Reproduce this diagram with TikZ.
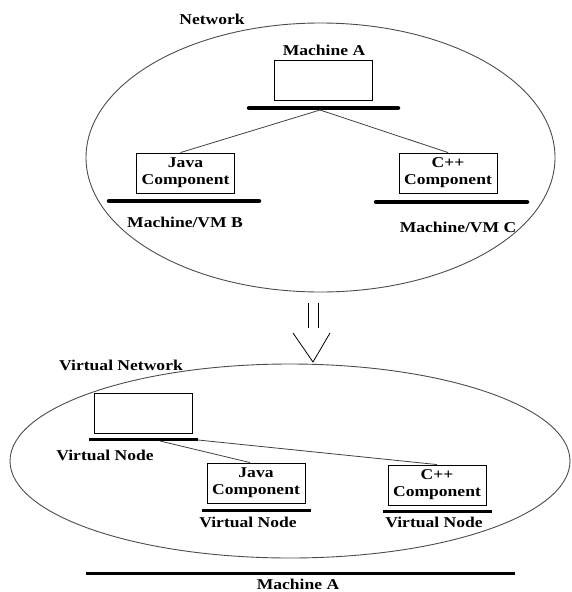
\documentclass[tikz,border=0pt]{standalone}
\usepackage{fontspec}
\newfontfamily\labelfont[FakeStretch=1.17]{Liberation Serif}
\begin{document}
\begin{tikzpicture}[x=1pt,y=-1pt,
  lbl/.style={font=\labelfont\bfseries\fontsize{15}{17}\selectfont, inner sep=0pt, align=center},
  compbox/.style={draw=black, line width=0.9pt, minimum width=98pt, minimum height=40pt,
    inner sep=0pt, align=center, font=\labelfont\bfseries\fontsize{15}{17}\selectfont},
  thickbar/.style={line width=4.5pt, line cap=round},
  thinbar/.style={line width=3pt},
  link/.style={draw=black!75, line width=0.8pt},
  outline/.style={draw=black!70, line width=0.9pt}
]
\useasboundingbox (0,0) rectangle (571,592);

% ---------- physical network ----------
\draw[outline] (320.5,157.5) ellipse [x radius=234.5, y radius=134.5];
\node[lbl] (net) at (212,19) {Network};

\node[lbl] (malbl) at (324,50) {Machine A};
\node[compbox] (mabox) at (323,80) {};
\coordinate (maL) at (249,108);
\coordinate (maR) at (398,108);
\coordinate (maHub) at (320,110);
\draw[thickbar] (maL) -- (maR);

\node[compbox] (jbox) at (185.5,173) {Java\\Component};
\coordinate (jL) at (109,201);
\coordinate (jR) at (259,201);
\draw[thickbar] (jL) -- (jR);
\node[lbl] (jlbl) at (185,222) {Machine/VM B};

\node[compbox] (cbox) at (448,173) {C++\\Component};
\coordinate (cL) at (376,202);
\coordinate (cR) at (527,202);
\draw[thickbar] (cL) -- (cR);
\node[lbl] (clbl) at (458,227) {Machine/VM C};

\draw[link] (maHub) -- ([xshift=-5pt]jbox.north);
\draw[link] (maHub) -- (cbox.north);

% ---------- transformation arrow ----------
\coordinate (arL1) at (308,303);
\coordinate (arL2) at (308,328);
\coordinate (arR1) at (318,303);
\coordinate (arR2) at (318,328);
\coordinate (headL) at (293,333);
\coordinate (tip) at (313,362);
\coordinate (headR) at (330,333);
\draw[line width=1pt] (arL1) -- (arL2);
\draw[line width=1pt] (arR1) -- (arR2);
\draw[line width=0.8pt] (headL) -- (tip) -- (headR);

% ---------- virtual network ----------
\draw[outline] (290,461) ellipse [x radius=280, y radius=97];
\node[lbl] (vnet) at (121,365) {Virtual Network};

\node[compbox] (vbox) at (143,413) {};
\coordinate (vL) at (89,439);
\coordinate (vR) at (198,439);
\coordinate (vHub) at (160,441);
\coordinate (vEnd) at (198,440);
\draw[thinbar] (vL) -- (vR);
\node[lbl] (vlbl) at (105,455) {Virtual Node};

\node[compbox] (vjbox) at (256,483) {Java\\Component};
\coordinate (vjL) at (202,510);
\coordinate (vjR) at (311,510);
\draw[thinbar] (vjL) -- (vjR);
\node[lbl] (vjlbl) at (248,522) {Virtual Node};

\node[compbox] (vcbox) at (437,485) {C++\\Component};
\coordinate (vcL) at (383,511);
\coordinate (vcR) at (492,511);
\draw[thinbar] (vcL) -- (vcR);
\node[lbl] (vclbl) at (434,522) {Virtual Node};

\draw[link] (vHub) -- ([xshift=-6pt]vjbox.north);
\draw[link] (vEnd) -- (vcbox.north);

% ---------- host machine ----------
\coordinate (hostL) at (86,573);
\coordinate (hostR) at (515,573);
\draw[thinbar] (hostL) -- (hostR);
\node[lbl] (hostlbl) at (298,584) {Machine A};
\end{tikzpicture}
\end{document}
